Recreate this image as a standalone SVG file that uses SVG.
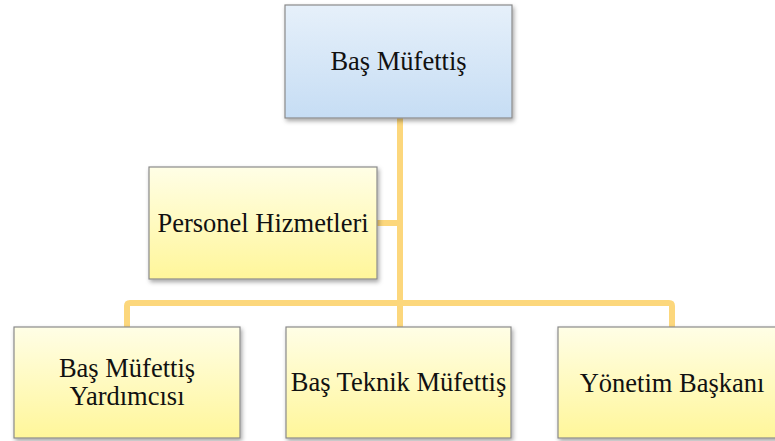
<svg xmlns="http://www.w3.org/2000/svg" width="775" height="441" viewBox="0 0 775 441">
  <defs>
    <linearGradient id="blueFill" x1="0" y1="0" x2="0" y2="1">
      <stop offset="0" stop-color="#e6f0fa"/>
      <stop offset="1" stop-color="#c6ddf4"/>
    </linearGradient>
    <linearGradient id="yellowFill" x1="0" y1="0" x2="0" y2="1">
      <stop offset="0" stop-color="#fffee6"/>
      <stop offset="1" stop-color="#fff69a"/>
    </linearGradient>
    <filter id="shadow" x="-10%" y="-10%" width="125%" height="130%">
      <feDropShadow dx="1.5" dy="2.5" stdDeviation="2" flood-color="#000" flood-opacity="0.35"/>
    </filter>
  </defs>
  <style>
    .box { stroke: #8a8a8a; stroke-width: 1.2; filter: url(#shadow); }
    .blue { fill: url(#blueFill); }
    .yellow { fill: url(#yellowFill); }
    .label { font-family: "Liberation Serif", "Times New Roman", serif; font-size: 26.5px; fill: #111; text-anchor: middle; }
    .link { fill: none; stroke: #fcd77c; stroke-width: 6; stroke-linejoin: round; }
  </style>

  <rect x="0" y="0" width="775" height="441" fill="#ffffff"/>

  <!-- connectors -->
  <g id="connectors">
    <path class="link" d="M400 118 V327"/>
    <path class="link" d="M377 223 H400"/>
    <path class="link" d="M127 327 V306 Q127 303 130 303 H669 Q672 303 672 306 V327"/>
  </g>

  <!-- top node -->
  <g id="bas-mufettis">
    <rect class="box blue" x="285" y="5" width="227" height="113"/>
    <text class="label" x="398.5" y="70">Baş Müfettiş</text>
  </g>

  <!-- staff node -->
  <g id="personel-hizmetleri">
    <rect class="box yellow" x="149" y="167" width="228" height="112"/>
    <text class="label" x="263" y="232">Personel Hizmetleri</text>
  </g>

  <!-- subordinate nodes -->
  <g id="bas-mufettis-yardimcisi">
    <rect class="box yellow" x="14" y="327" width="226" height="111"/>
    <text class="label" x="127" y="377">Baş Müfettiş</text>
    <text class="label" x="127" y="405">Yardımcısı</text>
  </g>

  <g id="bas-teknik-mufettis">
    <rect class="box yellow" x="286" y="327" width="225" height="111"/>
    <text class="label" x="398.5" y="391">Baş Teknik Müfettiş</text>
  </g>

  <g id="yonetim-baskani">
    <rect class="box yellow" x="558" y="327" width="228" height="111"/>
    <text class="label" x="672" y="392">Yönetim Başkanı</text>
  </g>
</svg>
